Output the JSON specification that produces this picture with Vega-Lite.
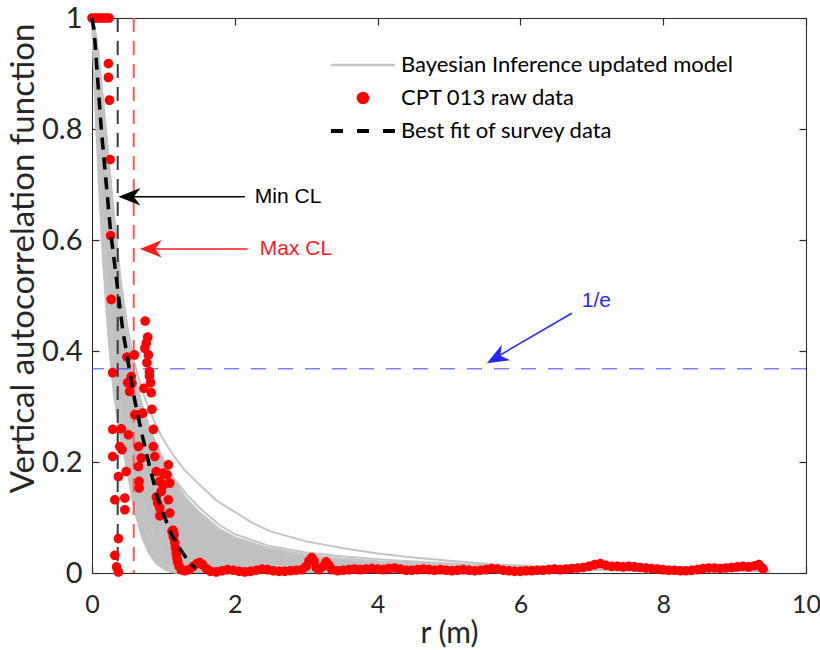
{
  "$schema": "https://vega.github.io/schema/vega-lite/v6.json",
  "width": 714,
  "height": 555,
  "autosize": {"type": "none"},
  "padding": {"left": 92, "top": 18, "right": 14, "bottom": 77},
  "background": "white",
  "config": {
    "view": {"stroke": "#262626", "strokeWidth": 1},
    "axis": {
      "grid": false,
      "labelFont": "Lato",
      "titleFont": "Lato",
      "labelFontSize": 29,
      "titleFontSize": 30,
      "titleFontWeight": "normal",
      "labelColor": "#262626",
      "titleColor": "#262626",
      "domainColor": "#262626",
      "tickColor": "#262626",
      "tickSize": -7,
      "tickWidth": 1.2,
      "labelFlush": false
    }
  },
  "datasets": {
    "band": [
      {"r": 0, "lo": 1, "hi": 1},
      {"r": 0.02, "lo": 0.93, "hi": 0.995},
      {"r": 0.05, "lo": 0.83, "hi": 0.985},
      {"r": 0.1, "lo": 0.69, "hi": 0.94},
      {"r": 0.15, "lo": 0.575, "hi": 0.875},
      {"r": 0.2, "lo": 0.475, "hi": 0.81},
      {"r": 0.25, "lo": 0.395, "hi": 0.74},
      {"r": 0.3, "lo": 0.33, "hi": 0.67},
      {"r": 0.35, "lo": 0.285, "hi": 0.6},
      {"r": 0.4, "lo": 0.245, "hi": 0.535},
      {"r": 0.5, "lo": 0.18, "hi": 0.43},
      {"r": 0.6, "lo": 0.11, "hi": 0.36},
      {"r": 0.7, "lo": 0.065, "hi": 0.31},
      {"r": 0.8, "lo": 0.035, "hi": 0.27},
      {"r": 0.9, "lo": 0.017, "hi": 0.237},
      {"r": 1.0, "lo": 0.008, "hi": 0.208},
      {"r": 1.1, "lo": 0.002, "hi": 0.183},
      {"r": 1.2, "lo": 0, "hi": 0.16},
      {"r": 1.3, "lo": 0, "hi": 0.14},
      {"r": 1.5, "lo": 0, "hi": 0.11},
      {"r": 1.75, "lo": 0, "hi": 0.08},
      {"r": 2.0, "lo": 0, "hi": 0.064},
      {"r": 2.5, "lo": 0, "hi": 0.043},
      {"r": 3.0, "lo": 0, "hi": 0.031},
      {"r": 3.5, "lo": 0, "hi": 0.025},
      {"r": 4.0, "lo": 0, "hi": 0.02},
      {"r": 4.5, "lo": 0, "hi": 0.016},
      {"r": 5.0, "lo": 0, "hi": 0.012},
      {"r": 5.5, "lo": 0, "hi": 0.009},
      {"r": 6.0, "lo": 0, "hi": 0.005},
      {"r": 6.5, "lo": 0, "hi": 0.001}
    ],
    "curves": [
      {"c": "u1", "r": 0, "v": 1}, {"c": "u1", "r": 0.05, "v": 0.97}, {"c": "u1", "r": 0.1, "v": 0.92}, {"c": "u1", "r": 0.2, "v": 0.79}, {"c": "u1", "r": 0.3, "v": 0.655}, {"c": "u1", "r": 0.4, "v": 0.53}, {"c": "u1", "r": 0.5, "v": 0.44}, {"c": "u1", "r": 0.6, "v": 0.375}, {"c": "u1", "r": 0.7, "v": 0.33}, {"c": "u1", "r": 0.8, "v": 0.295}, {"c": "u1", "r": 0.9, "v": 0.265}, {"c": "u1", "r": 1.0, "v": 0.24}, {"c": "u1", "r": 1.15, "v": 0.21}, {"c": "u1", "r": 1.3, "v": 0.185}, {"c": "u1", "r": 1.5, "v": 0.16}, {"c": "u1", "r": 1.75, "v": 0.13}, {"c": "u1", "r": 2.0, "v": 0.11}, {"c": "u1", "r": 2.25, "v": 0.09}, {"c": "u1", "r": 2.5, "v": 0.075}, {"c": "u1", "r": 3.0, "v": 0.057}, {"c": "u1", "r": 3.5, "v": 0.045}, {"c": "u1", "r": 4.0, "v": 0.035}, {"c": "u1", "r": 4.5, "v": 0.028}, {"c": "u1", "r": 5.0, "v": 0.022}, {"c": "u1", "r": 5.7, "v": 0.015}, {"c": "u1", "r": 6.5, "v": 0.011}, {"c": "u1", "r": 7.5, "v": 0.007}, {"c": "u1", "r": 8.5, "v": 0.005}, {"c": "u1", "r": 9.5, "v": 0.003},
      {"c": "u2", "r": 0, "v": 1}, {"c": "u2", "r": 0.1, "v": 0.9}, {"c": "u2", "r": 0.2, "v": 0.77}, {"c": "u2", "r": 0.3, "v": 0.63}, {"c": "u2", "r": 0.4, "v": 0.51}, {"c": "u2", "r": 0.5, "v": 0.42}, {"c": "u2", "r": 0.6, "v": 0.355}, {"c": "u2", "r": 0.7, "v": 0.3}, {"c": "u2", "r": 0.8, "v": 0.26}, {"c": "u2", "r": 0.9, "v": 0.23}, {"c": "u2", "r": 1.0, "v": 0.205}, {"c": "u2", "r": 1.15, "v": 0.17}, {"c": "u2", "r": 1.32, "v": 0.142}, {"c": "u2", "r": 1.5, "v": 0.118}, {"c": "u2", "r": 1.79, "v": 0.086}, {"c": "u2", "r": 2.0, "v": 0.07}, {"c": "u2", "r": 2.5, "v": 0.048}, {"c": "u2", "r": 3.0, "v": 0.037}, {"c": "u2", "r": 3.5, "v": 0.03}, {"c": "u2", "r": 4.0, "v": 0.025}, {"c": "u2", "r": 4.6, "v": 0.02}, {"c": "u2", "r": 5.5, "v": 0.014}, {"c": "u2", "r": 6.5, "v": 0.009}, {"c": "u2", "r": 7.5, "v": 0.006}, {"c": "u2", "r": 8.5, "v": 0.004}, {"c": "u2", "r": 9.5, "v": 0.003},
      {"c": "u3", "r": 0, "v": 1}, {"c": "u3", "r": 0.1, "v": 0.89}, {"c": "u3", "r": 0.2, "v": 0.76}, {"c": "u3", "r": 0.3, "v": 0.62}, {"c": "u3", "r": 0.4, "v": 0.5}, {"c": "u3", "r": 0.5, "v": 0.41}, {"c": "u3", "r": 0.6, "v": 0.345}, {"c": "u3", "r": 0.7, "v": 0.29}, {"c": "u3", "r": 0.8, "v": 0.25}, {"c": "u3", "r": 0.9, "v": 0.22}, {"c": "u3", "r": 1.0, "v": 0.195}, {"c": "u3", "r": 1.15, "v": 0.16}, {"c": "u3", "r": 1.32, "v": 0.133}, {"c": "u3", "r": 1.5, "v": 0.11}, {"c": "u3", "r": 1.79, "v": 0.079}, {"c": "u3", "r": 2.0, "v": 0.064}, {"c": "u3", "r": 2.5, "v": 0.044}, {"c": "u3", "r": 3.0, "v": 0.033}, {"c": "u3", "r": 3.5, "v": 0.026}, {"c": "u3", "r": 4.0, "v": 0.021}, {"c": "u3", "r": 5.0, "v": 0.014}, {"c": "u3", "r": 6.0, "v": 0.008}, {"c": "u3", "r": 7.0, "v": 0.005}, {"c": "u3", "r": 8.0, "v": 0.003},
      {"c": "l1", "r": 0, "v": 1}, {"c": "l1", "r": 0.02, "v": 0.93}, {"c": "l1", "r": 0.05, "v": 0.83}, {"c": "l1", "r": 0.1, "v": 0.69}, {"c": "l1", "r": 0.15, "v": 0.575}, {"c": "l1", "r": 0.2, "v": 0.475}, {"c": "l1", "r": 0.25, "v": 0.395}, {"c": "l1", "r": 0.3, "v": 0.33}, {"c": "l1", "r": 0.35, "v": 0.285}, {"c": "l1", "r": 0.4, "v": 0.245}, {"c": "l1", "r": 0.5, "v": 0.18}, {"c": "l1", "r": 0.6, "v": 0.11}, {"c": "l1", "r": 0.7, "v": 0.065}, {"c": "l1", "r": 0.8, "v": 0.035}, {"c": "l1", "r": 0.9, "v": 0.017}, {"c": "l1", "r": 1.0, "v": 0.008}, {"c": "l1", "r": 1.1, "v": 0.002}, {"c": "l1", "r": 1.2, "v": 0},
      {"c": "l2", "r": 0, "v": 1}, {"c": "l2", "r": 0.05, "v": 0.85}, {"c": "l2", "r": 0.1, "v": 0.72}, {"c": "l2", "r": 0.2, "v": 0.51}, {"c": "l2", "r": 0.3, "v": 0.36}, {"c": "l2", "r": 0.4, "v": 0.26}, {"c": "l2", "r": 0.5, "v": 0.19}, {"c": "l2", "r": 0.6, "v": 0.14}, {"c": "l2", "r": 0.7, "v": 0.1}, {"c": "l2", "r": 0.8, "v": 0.065}, {"c": "l2", "r": 0.88, "v": 0.04}, {"c": "l2", "r": 1.0, "v": 0.018}, {"c": "l2", "r": 1.1, "v": 0.007}, {"c": "l2", "r": 1.2, "v": 0.002}, {"c": "l2", "r": 1.3, "v": 0},
      {"c": "l3", "r": 0, "v": 1}, {"c": "l3", "r": 0.05, "v": 0.87}, {"c": "l3", "r": 0.1, "v": 0.75}, {"c": "l3", "r": 0.2, "v": 0.55}, {"c": "l3", "r": 0.3, "v": 0.4}, {"c": "l3", "r": 0.4, "v": 0.29}, {"c": "l3", "r": 0.5, "v": 0.22}, {"c": "l3", "r": 0.6, "v": 0.165}, {"c": "l3", "r": 0.7, "v": 0.13}, {"c": "l3", "r": 0.8, "v": 0.09}, {"c": "l3", "r": 0.9, "v": 0.058}, {"c": "l3", "r": 0.98, "v": 0.04}, {"c": "l3", "r": 1.1, "v": 0.02}, {"c": "l3", "r": 1.2, "v": 0.008}, {"c": "l3", "r": 1.3, "v": 0.002}, {"c": "l3", "r": 1.4, "v": 0}
    ],
    "fit": [
      {"r": 0, "v": 1}, {"r": 0.03, "v": 0.977}, {"r": 0.13, "v": 0.8}, {"r": 0.26, "v": 0.616}, {"r": 0.43, "v": 0.438}, {"r": 0.6, "v": 0.31}, {"r": 0.7, "v": 0.25}, {"r": 0.81, "v": 0.19}, {"r": 0.92, "v": 0.135}, {"r": 1.02, "v": 0.1}, {"r": 1.12, "v": 0.068}, {"r": 1.25, "v": 0.04}, {"r": 1.37, "v": 0.018}, {"r": 1.45, "v": 0.008}
    ],
    "raw": [
      {"series": "CPT 013 raw data", "r": 0, "v": 1}, {"series": "CPT 013 raw data", "r": 0.04, "v": 1}, {"series": "CPT 013 raw data", "r": 0.08, "v": 1}, {"series": "CPT 013 raw data", "r": 0.12, "v": 1}, {"series": "CPT 013 raw data", "r": 0.16, "v": 1}, {"series": "CPT 013 raw data", "r": 0.2, "v": 1}, {"series": "CPT 013 raw data", "r": 0.24, "v": 1},
      {"series": "CPT 013 raw data", "r": 0.23, "v": 0.918}, {"series": "CPT 013 raw data", "r": 0.23, "v": 0.893}, {"series": "CPT 013 raw data", "r": 0.245, "v": 0.852}, {"series": "CPT 013 raw data", "r": 0.255, "v": 0.745}, {"series": "CPT 013 raw data", "r": 0.26, "v": 0.608}, {"series": "CPT 013 raw data", "r": 0.27, "v": 0.493}, {"series": "CPT 013 raw data", "r": 0.289, "v": 0.361},
      {"series": "CPT 013 raw data", "r": 0.745, "v": 0.454}, {"series": "CPT 013 raw data", "r": 0.78, "v": 0.425}, {"series": "CPT 013 raw data", "r": 0.76, "v": 0.414}, {"series": "CPT 013 raw data", "r": 0.74, "v": 0.405}, {"series": "CPT 013 raw data", "r": 0.79, "v": 0.393}, {"series": "CPT 013 raw data", "r": 0.595, "v": 0.393}, {"series": "CPT 013 raw data", "r": 0.49, "v": 0.389}, {"series": "CPT 013 raw data", "r": 0.77, "v": 0.379}, {"series": "CPT 013 raw data", "r": 0.805, "v": 0.363}, {"series": "CPT 013 raw data", "r": 0.805, "v": 0.355}, {"series": "CPT 013 raw data", "r": 0.55, "v": 0.354}, {"series": "CPT 013 raw data", "r": 0.5, "v": 0.343}, {"series": "CPT 013 raw data", "r": 0.56, "v": 0.342}, {"series": "CPT 013 raw data", "r": 0.82, "v": 0.343}, {"series": "CPT 013 raw data", "r": 0.726, "v": 0.333}, {"series": "CPT 013 raw data", "r": 0.527, "v": 0.327}, {"series": "CPT 013 raw data", "r": 0.83, "v": 0.325}, {"series": "CPT 013 raw data", "r": 0.84, "v": 0.295}, {"series": "CPT 013 raw data", "r": 0.71, "v": 0.288}, {"series": "CPT 013 raw data", "r": 0.645, "v": 0.285},
      {"series": "CPT 013 raw data", "r": 0.29, "v": 0.259}, {"series": "CPT 013 raw data", "r": 0.41, "v": 0.26}, {"series": "CPT 013 raw data", "r": 0.6, "v": 0.285}, {"series": "CPT 013 raw data", "r": 0.51, "v": 0.249}, {"series": "CPT 013 raw data", "r": 0.86, "v": 0.259}, {"series": "CPT 013 raw data", "r": 0.39, "v": 0.228}, {"series": "CPT 013 raw data", "r": 0.42, "v": 0.222}, {"series": "CPT 013 raw data", "r": 0.29, "v": 0.21}, {"series": "CPT 013 raw data", "r": 0.65, "v": 0.228}, {"series": "CPT 013 raw data", "r": 0.69, "v": 0.207}, {"series": "CPT 013 raw data", "r": 0.86, "v": 0.228}, {"series": "CPT 013 raw data", "r": 0.88, "v": 0.21}, {"series": "CPT 013 raw data", "r": 1.07, "v": 0.195}, {"series": "CPT 013 raw data", "r": 0.48, "v": 0.183}, {"series": "CPT 013 raw data", "r": 0.37, "v": 0.174}, {"series": "CPT 013 raw data", "r": 0.65, "v": 0.192}, {"series": "CPT 013 raw data", "r": 0.9, "v": 0.183}, {"series": "CPT 013 raw data", "r": 1.0, "v": 0.18}, {"series": "CPT 013 raw data", "r": 1.05, "v": 0.177}, {"series": "CPT 013 raw data", "r": 0.66, "v": 0.165}, {"series": "CPT 013 raw data", "r": 0.66, "v": 0.153}, {"series": "CPT 013 raw data", "r": 0.95, "v": 0.165}, {"series": "CPT 013 raw data", "r": 1.0, "v": 0.159}, {"series": "CPT 013 raw data", "r": 1.09, "v": 0.162}, {"series": "CPT 013 raw data", "r": 0.9, "v": 0.137}, {"series": "CPT 013 raw data", "r": 0.97, "v": 0.147}, {"series": "CPT 013 raw data", "r": 1.07, "v": 0.132}, {"series": "CPT 013 raw data", "r": 0.92, "v": 0.126}, {"series": "CPT 013 raw data", "r": 0.32, "v": 0.132}, {"series": "CPT 013 raw data", "r": 0.46, "v": 0.135}, {"series": "CPT 013 raw data", "r": 0.46, "v": 0.114}, {"series": "CPT 013 raw data", "r": 0.95, "v": 0.117}, {"series": "CPT 013 raw data", "r": 1.09, "v": 0.108}, {"series": "CPT 013 raw data", "r": 0.95, "v": 0.103}, {"series": "CPT 013 raw data", "r": 0.37, "v": 0.062}, {"series": "CPT 013 raw data", "r": 0.32, "v": 0.032}, {"series": "CPT 013 raw data", "r": 0.345, "v": 0.011}, {"series": "CPT 013 raw data", "r": 0.37, "v": 0.002}, {"series": "CPT 013 raw data", "r": 1.135, "v": 0.077}, {"series": "CPT 013 raw data", "r": 1.15, "v": 0.069},
      {"series": "CPT 013 raw data", "r": 1.12, "v": 0.075}, {"series": "CPT 013 raw data", "r": 1.14, "v": 0.065}, {"series": "CPT 013 raw data", "r": 1.16, "v": 0.055}, {"series": "CPT 013 raw data", "r": 1.17, "v": 0.045}, {"series": "CPT 013 raw data", "r": 1.18, "v": 0.035}, {"series": "CPT 013 raw data", "r": 1.19, "v": 0.027}, {"series": "CPT 013 raw data", "r": 1.2, "v": 0.02}, {"series": "CPT 013 raw data", "r": 1.22, "v": 0.012}, {"series": "CPT 013 raw data", "r": 1.25, "v": 0.006}, {"series": "CPT 013 raw data", "r": 1.3, "v": 0.004}, {"series": "CPT 013 raw data", "r": 1.36, "v": 0.006}, {"series": "CPT 013 raw data", "r": 1.42, "v": 0.012}, {"series": "CPT 013 raw data", "r": 1.47, "v": 0.017}, {"series": "CPT 013 raw data", "r": 1.51, "v": 0.019}, {"series": "CPT 013 raw data", "r": 1.55, "v": 0.015}, {"series": "CPT 013 raw data", "r": 1.6, "v": 0.008}, {"series": "CPT 013 raw data", "r": 1.66, "v": 0.003}, {"series": "CPT 013 raw data", "r": 1.74, "v": 0.002}, {"series": "CPT 013 raw data", "r": 1.82, "v": 0.004}, {"series": "CPT 013 raw data", "r": 1.9, "v": 0.006}, {"series": "CPT 013 raw data", "r": 1.98, "v": 0.005}, {"series": "CPT 013 raw data", "r": 2.06, "v": 0.003}, {"series": "CPT 013 raw data", "r": 2.14, "v": 0.002}, {"series": "CPT 013 raw data", "r": 2.22, "v": 0.003}, {"series": "CPT 013 raw data", "r": 2.3, "v": 0.005}, {"series": "CPT 013 raw data", "r": 2.38, "v": 0.007}, {"series": "CPT 013 raw data", "r": 2.46, "v": 0.006}, {"series": "CPT 013 raw data", "r": 2.54, "v": 0.004}, {"series": "CPT 013 raw data", "r": 2.62, "v": 0.003}, {"series": "CPT 013 raw data", "r": 2.7, "v": 0.003}, {"series": "CPT 013 raw data", "r": 2.78, "v": 0.004}, {"series": "CPT 013 raw data", "r": 2.86, "v": 0.005}, {"series": "CPT 013 raw data", "r": 2.94, "v": 0.006}, {"series": "CPT 013 raw data", "r": 3.0, "v": 0.012}, {"series": "CPT 013 raw data", "r": 3.04, "v": 0.022}, {"series": "CPT 013 raw data", "r": 3.08, "v": 0.028}, {"series": "CPT 013 raw data", "r": 3.11, "v": 0.022}, {"series": "CPT 013 raw data", "r": 3.14, "v": 0.01}, {"series": "CPT 013 raw data", "r": 3.18, "v": 0.006}, {"series": "CPT 013 raw data", "r": 3.24, "v": 0.012}, {"series": "CPT 013 raw data", "r": 3.28, "v": 0.02}, {"series": "CPT 013 raw data", "r": 3.32, "v": 0.014}, {"series": "CPT 013 raw data", "r": 3.36, "v": 0.006}, {"series": "CPT 013 raw data", "r": 3.44, "v": 0.004}, {"series": "CPT 013 raw data", "r": 3.52, "v": 0.005}, {"series": "CPT 013 raw data", "r": 3.6, "v": 0.006}, {"series": "CPT 013 raw data", "r": 3.68, "v": 0.007}, {"series": "CPT 013 raw data", "r": 3.76, "v": 0.006}, {"series": "CPT 013 raw data", "r": 3.84, "v": 0.007}, {"series": "CPT 013 raw data", "r": 3.92, "v": 0.008}, {"series": "CPT 013 raw data", "r": 4.0, "v": 0.007}, {"series": "CPT 013 raw data", "r": 4.08, "v": 0.006}, {"series": "CPT 013 raw data", "r": 4.16, "v": 0.008}, {"series": "CPT 013 raw data", "r": 4.24, "v": 0.009}, {"series": "CPT 013 raw data", "r": 4.32, "v": 0.007}, {"series": "CPT 013 raw data", "r": 4.4, "v": 0.005}, {"series": "CPT 013 raw data", "r": 4.48, "v": 0.005}, {"series": "CPT 013 raw data", "r": 4.56, "v": 0.006}, {"series": "CPT 013 raw data", "r": 4.64, "v": 0.007}, {"series": "CPT 013 raw data", "r": 4.72, "v": 0.006}, {"series": "CPT 013 raw data", "r": 4.8, "v": 0.005}, {"series": "CPT 013 raw data", "r": 4.88, "v": 0.006}, {"series": "CPT 013 raw data", "r": 4.96, "v": 0.005}, {"series": "CPT 013 raw data", "r": 5.04, "v": 0.004}, {"series": "CPT 013 raw data", "r": 5.12, "v": 0.005}, {"series": "CPT 013 raw data", "r": 5.2, "v": 0.006}, {"series": "CPT 013 raw data", "r": 5.28, "v": 0.005}, {"series": "CPT 013 raw data", "r": 5.36, "v": 0.004}, {"series": "CPT 013 raw data", "r": 5.44, "v": 0.005}, {"series": "CPT 013 raw data", "r": 5.52, "v": 0.006}, {"series": "CPT 013 raw data", "r": 5.6, "v": 0.008}, {"series": "CPT 013 raw data", "r": 5.68, "v": 0.007}, {"series": "CPT 013 raw data", "r": 5.76, "v": 0.005}, {"series": "CPT 013 raw data", "r": 5.84, "v": 0.004}, {"series": "CPT 013 raw data", "r": 5.92, "v": 0.003}, {"series": "CPT 013 raw data", "r": 6.0, "v": 0.003}, {"series": "CPT 013 raw data", "r": 6.08, "v": 0.004}, {"series": "CPT 013 raw data", "r": 6.16, "v": 0.004}, {"series": "CPT 013 raw data", "r": 6.24, "v": 0.005}, {"series": "CPT 013 raw data", "r": 6.32, "v": 0.005}, {"series": "CPT 013 raw data", "r": 6.4, "v": 0.006}, {"series": "CPT 013 raw data", "r": 6.48, "v": 0.007}, {"series": "CPT 013 raw data", "r": 6.56, "v": 0.006}, {"series": "CPT 013 raw data", "r": 6.64, "v": 0.007}, {"series": "CPT 013 raw data", "r": 6.72, "v": 0.008}, {"series": "CPT 013 raw data", "r": 6.8, "v": 0.009}, {"series": "CPT 013 raw data", "r": 6.88, "v": 0.01}, {"series": "CPT 013 raw data", "r": 6.96, "v": 0.012}, {"series": "CPT 013 raw data", "r": 7.04, "v": 0.015}, {"series": "CPT 013 raw data", "r": 7.12, "v": 0.017}, {"series": "CPT 013 raw data", "r": 7.2, "v": 0.014}, {"series": "CPT 013 raw data", "r": 7.28, "v": 0.012}, {"series": "CPT 013 raw data", "r": 7.36, "v": 0.012}, {"series": "CPT 013 raw data", "r": 7.44, "v": 0.011}, {"series": "CPT 013 raw data", "r": 7.52, "v": 0.012}, {"series": "CPT 013 raw data", "r": 7.6, "v": 0.011}, {"series": "CPT 013 raw data", "r": 7.68, "v": 0.01}, {"series": "CPT 013 raw data", "r": 7.76, "v": 0.009}, {"series": "CPT 013 raw data", "r": 7.84, "v": 0.008}, {"series": "CPT 013 raw data", "r": 7.92, "v": 0.007}, {"series": "CPT 013 raw data", "r": 8.0, "v": 0.006}, {"series": "CPT 013 raw data", "r": 8.08, "v": 0.005}, {"series": "CPT 013 raw data", "r": 8.16, "v": 0.005}, {"series": "CPT 013 raw data", "r": 8.24, "v": 0.004}, {"series": "CPT 013 raw data", "r": 8.32, "v": 0.004}, {"series": "CPT 013 raw data", "r": 8.4, "v": 0.005}, {"series": "CPT 013 raw data", "r": 8.48, "v": 0.006}, {"series": "CPT 013 raw data", "r": 8.56, "v": 0.008}, {"series": "CPT 013 raw data", "r": 8.64, "v": 0.009}, {"series": "CPT 013 raw data", "r": 8.72, "v": 0.009}, {"series": "CPT 013 raw data", "r": 8.8, "v": 0.008}, {"series": "CPT 013 raw data", "r": 8.88, "v": 0.009}, {"series": "CPT 013 raw data", "r": 8.96, "v": 0.01}, {"series": "CPT 013 raw data", "r": 9.04, "v": 0.011}, {"series": "CPT 013 raw data", "r": 9.12, "v": 0.012}, {"series": "CPT 013 raw data", "r": 9.2, "v": 0.011}, {"series": "CPT 013 raw data", "r": 9.28, "v": 0.013}, {"series": "CPT 013 raw data", "r": 9.34, "v": 0.015}, {"series": "CPT 013 raw data", "r": 9.38, "v": 0.01}, {"series": "CPT 013 raw data", "r": 9.4, "v": 0.007}
    ]
  },
  "resolve": {"axis": {"x": "independent", "y": "independent"}},
  "layer": [
    {
      "data": {"name": "band"},
      "mark": {"type": "area", "color": "#c0c0c0", "opacity": 1},
      "encoding": {
        "x": {"field": "r", "type": "quantitative", "scale": {"domain": [0, 10], "nice": false, "zero": false},
              "axis": {"orient": "bottom", "values": [0, 2, 4, 6, 8, 10], "format": "d", "title": "r (m)", "labelFontSize": 25, "labelPadding": 26, "titleY": 60, "titleBaseline": "middle"}},
        "y": {"field": "hi", "type": "quantitative", "scale": {"domain": [0, 1], "nice": false, "zero": false},
              "axis": {"orient": "left", "values": [0, 0.2, 0.4, 0.6, 0.8, 1], "format": "~g", "title": "Vertical autocorrelation function", "titleFontSize": 33, "labelPadding": 17, "titleX": -52, "titleY": 240, "titleAlign": "center", "titleBaseline": "bottom", "titleAngle": -90}},
        "y2": {"field": "lo"}
      }
    },
    {
      "data": {"name": "curves"},
      "mark": {"type": "line", "strokeWidth": 2},
      "encoding": {
        "x": {"field": "r", "type": "quantitative", "axis": {"orient": "top", "values": [0, 2, 4, 6, 8, 10], "labels": false, "title": null, "domain": false}},
        "y": {"field": "v", "type": "quantitative", "axis": {"orient": "right", "values": [0, 0.2, 0.4, 0.6, 0.8, 1], "labels": false, "title": null, "domain": false}},
        "detail": {"field": "c"},
        "order": {"field": "r", "type": "quantitative"},
        "color": {
          "datum": "Bayesian Inference updated model", "type": "nominal",
          "scale": {"domain": ["Bayesian Inference updated model", "CPT 013 raw data", "Best fit of survey data"], "range": ["#c4c4c4", "#ff0000", "#000000"]},
          "legend": {
            "title": null, "orient": "none", "legendX": 260, "legendY": 36, "padding": 0,
            "labelFont": "Lato", "labelFontSize": 22, "labelColor": "#000000", "labelLimit": 600,
            "symbolSize": 400, "labelOffset": 27, "rowPadding": 11, "symbolStrokeWidth": 2.5,
            "encode": {"symbols": {"update": {
              "fill": {"scale": "color", "field": "value"},
              "stroke": {"scale": "color", "field": "value"},
              "strokeWidth": {"signal": "datum.value === 'Best fit of survey data' ? 4 : 2.5"},
              "shape": {"scale": "shape", "field": "value"},
              "size": {"value": 400},
              "opacity": {"value": 1}
            }}}
          }
        }
      }
    },
    {
      "data": {"values": [{"r": 0.36}]},
      "mark": {"type": "rule", "color": "#3a3a3a", "strokeWidth": 2, "strokeDash": [14, 9]},
      "encoding": {"x": {"field": "r", "type": "quantitative", "axis": null}}
    },
    {
      "data": {"values": [{"r": 0.585}]},
      "mark": {"type": "rule", "color": "#ff5a5a", "strokeWidth": 2, "strokeDash": [14, 9]},
      "encoding": {"x": {"field": "r", "type": "quantitative", "axis": null}}
    },
    {
      "data": {"values": [{"v": 0.3679}]},
      "mark": {"type": "rule", "color": "#4040ff", "strokeWidth": 1, "strokeDash": [15, 12]},
      "encoding": {"y": {"field": "v", "type": "quantitative", "axis": null}}
    },
    {
      "data": {"name": "raw"},
      "mark": {"type": "point", "filled": true, "size": 369, "opacity": 1},
      "encoding": {
        "x": {"field": "r", "type": "quantitative", "axis": null},
        "y": {"field": "v", "type": "quantitative", "axis": null},
        "color": {"field": "series", "type": "nominal", "legend": null},
        "shape": {
          "field": "series", "type": "nominal",
          "scale": {"domain": ["Bayesian Inference updated model", "CPT 013 raw data", "Best fit of survey data"], "range": ["M-3.2,0H3.2", "M-0.5,0A0.5,0.5 0 1,0 0.5,0A0.5,0.5 0 1,0 -0.5,0ZM-0.36,0A0.36,0.36 0 1,0 0.36,0A0.36,0.36 0 1,0 -0.36,0ZM-0.22,0A0.22,0.22 0 1,0 0.22,0A0.22,0.22 0 1,0 -0.22,0ZM-0.09,0A0.09,0.09 0 1,0 0.09,0A0.09,0.09 0 1,0 -0.09,0Z", "M-3.2,0H-2.0M-0.6,0H0.6M2.0,0H3.2"]},
          "legend": null
        }
      }
    },
    {
      "data": {"name": "fit"},
      "mark": {"type": "line", "color": "#000000", "strokeWidth": 3.5, "strokeDash": [12, 8]},
      "encoding": {
        "x": {"field": "r", "type": "quantitative", "axis": null},
        "y": {"field": "v", "type": "quantitative", "axis": null}
      }
    },
    {
      "data": {"values": [{"r": 2.14, "v": 0.678, "r2": 0.4, "v2": 0.678}]},
      "mark": {"type": "rule", "color": "#000000", "strokeWidth": 1.5},
      "encoding": {
        "x": {"field": "r", "type": "quantitative", "axis": null}, "y": {"field": "v", "type": "quantitative", "axis": null},
        "x2": {"field": "r2"}, "y2": {"field": "v2"}
      }
    },
    {
      "data": {"values": [{"r": 0.37, "v": 0.678}]},
      "mark": {"type": "point", "shape": "M0,0L-2,-0.8L-1.4,0L-2,0.8Z", "size": 484, "angle": 180, "filled": true, "color": "#000000", "opacity": 1},
      "encoding": {"x": {"field": "r", "type": "quantitative", "axis": null}, "y": {"field": "v", "type": "quantitative", "axis": null}}
    },
    {
      "data": {"values": [{"r": 2.18, "v": 0.584, "r2": 0.7, "v2": 0.584}]},
      "mark": {"type": "rule", "color": "#ff1a1a", "strokeWidth": 1.5},
      "encoding": {
        "x": {"field": "r", "type": "quantitative", "axis": null}, "y": {"field": "v", "type": "quantitative", "axis": null},
        "x2": {"field": "r2"}, "y2": {"field": "v2"}
      }
    },
    {
      "data": {"values": [{"r": 0.67, "v": 0.584}]},
      "mark": {"type": "point", "shape": "M0,0L-2,-0.8L-1.4,0L-2,0.8Z", "size": 484, "angle": 180, "filled": true, "color": "#ff1a1a", "opacity": 1},
      "encoding": {"x": {"field": "r", "type": "quantitative", "axis": null}, "y": {"field": "v", "type": "quantitative", "axis": null}}
    },
    {
      "data": {"values": [{"r": 6.72, "v": 0.468, "r2": 5.6, "v2": 0.384}]},
      "mark": {"type": "rule", "color": "#2626ff", "strokeWidth": 1.5},
      "encoding": {
        "x": {"field": "r", "type": "quantitative", "axis": null}, "y": {"field": "v", "type": "quantitative", "axis": null},
        "x2": {"field": "r2"}, "y2": {"field": "v2"}
      }
    },
    {
      "data": {"values": [{"r": 5.53, "v": 0.378}]},
      "mark": {"type": "point", "shape": "M0,0L-2,-0.8L-1.4,0L-2,0.8Z", "size": 484, "angle": 151, "filled": true, "color": "#2626ff", "opacity": 1},
      "encoding": {"x": {"field": "r", "type": "quantitative", "axis": null}, "y": {"field": "v", "type": "quantitative", "axis": null}}
    },
    {
      "data": {"values": [{"r": 2.28, "v": 0.678, "t": "Min CL"}]},
      "mark": {"type": "text", "align": "left", "baseline": "middle", "font": "Liberation Sans", "fontSize": 21, "color": "#000000"},
      "encoding": {"x": {"field": "r", "type": "quantitative", "axis": null}, "y": {"field": "v", "type": "quantitative", "axis": null}, "text": {"field": "t"}}
    },
    {
      "data": {"values": [{"r": 2.35, "v": 0.584, "t": "Max CL"}]},
      "mark": {"type": "text", "align": "left", "baseline": "middle", "font": "Liberation Sans", "fontSize": 21, "color": "#ff1a1a"},
      "encoding": {"x": {"field": "r", "type": "quantitative", "axis": null}, "y": {"field": "v", "type": "quantitative", "axis": null}, "text": {"field": "t"}}
    },
    {
      "data": {"values": [{"r": 6.86, "v": 0.49, "t": "1/e"}]},
      "mark": {"type": "text", "align": "left", "baseline": "middle", "font": "Liberation Sans", "fontSize": 21, "color": "#2626ff"},
      "encoding": {"x": {"field": "r", "type": "quantitative", "axis": null}, "y": {"field": "v", "type": "quantitative", "axis": null}, "text": {"field": "t"}}
    }
  ]
}
